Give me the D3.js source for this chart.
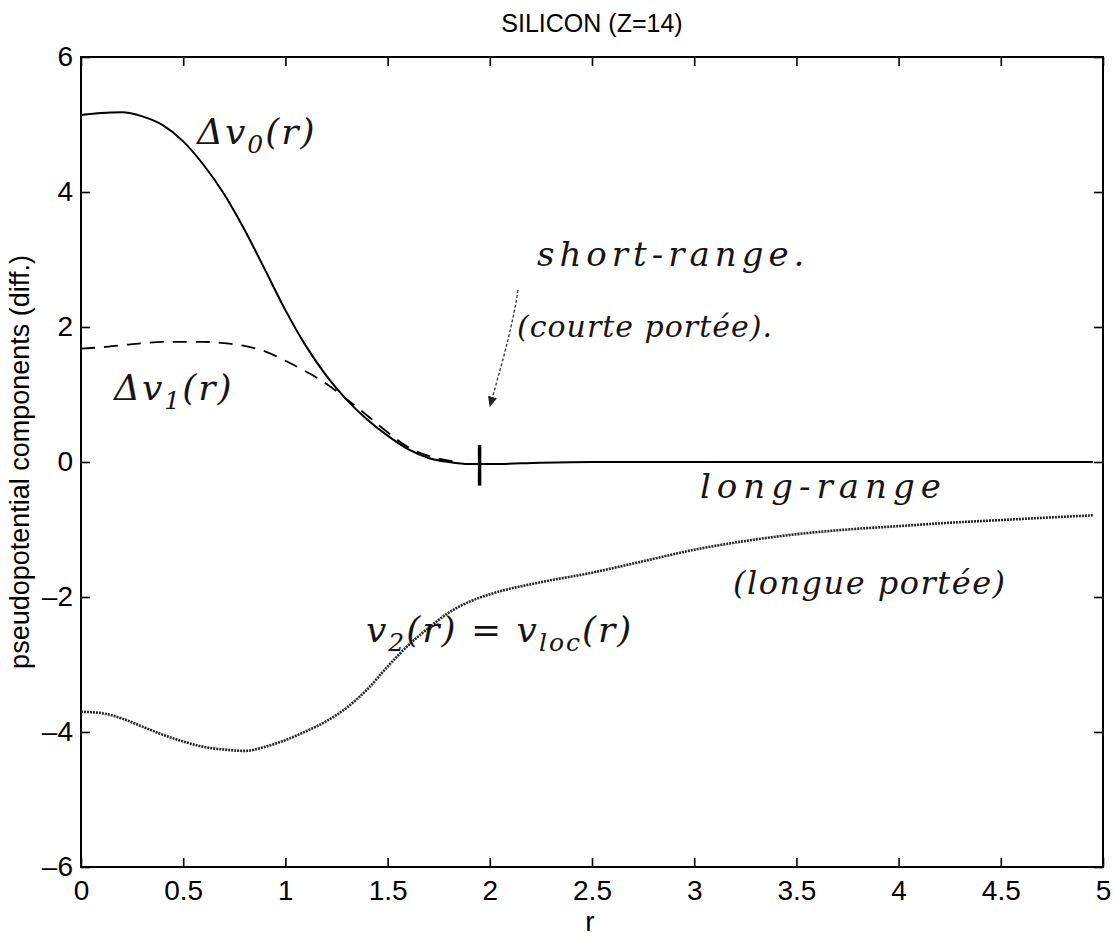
<!DOCTYPE html>
<html>
  <head>
    <meta charset="utf-8">
    <title>Silicon pseudopotential components</title>
    <script src="https://d3js.org/d3.v7.min.js"></script>
    <style>
      body { margin: 0; background: #fff; }
      .hand { font-family: "DejaVu Serif", serif; font-style: italic; fill: #151515; }
      .axis text { font-family: "Liberation Sans", Arial, sans-serif; font-size: 28px; fill: #000; }
    </style>
  </head>
  <body>
    <svg width="1114" height="944" font-family="Liberation Sans, Arial, sans-serif"></svg>
    <script>
      // data
      var rGrid = [0, 0.1, 0.2, 0.3, 0.4, 0.5, 0.6, 0.7, 0.8, 0.9, 1.0, 1.1, 1.2, 1.3, 1.4, 1.5, 1.6, 1.7, 1.8, 1.9, 2.0, 2.25, 2.5, 2.75, 3.0, 3.25, 3.5, 3.75, 4.0, 4.25, 4.5, 4.75, 4.95];
      var dv0 = [5.14, 5.17, 5.18, 5.12, 4.99, 4.75, 4.40, 3.97, 3.44, 2.85, 2.25, 1.72, 1.28, 0.92, 0.63, 0.39, 0.19, 0.06, 0.0, -0.03, -0.03, -0.01, 0, 0, 0, 0, 0, 0, 0, 0, 0, 0, 0];
      var rShort = [0, 0.1, 0.2, 0.3, 0.4, 0.5, 0.6, 0.7, 0.8, 0.9, 1.0, 1.1, 1.2, 1.3, 1.4, 1.5, 1.6, 1.7, 1.8, 1.85];
      var dv1 = [1.68, 1.70, 1.73, 1.76, 1.78, 1.78, 1.78, 1.76, 1.72, 1.64, 1.50, 1.34, 1.16, 0.93, 0.69, 0.44, 0.22, 0.09, 0.02, 0.0];
      var v2 = [-3.70, -3.72, -3.80, -3.92, -4.04, -4.14, -4.22, -4.26, -4.28, -4.22, -4.12, -3.99, -3.84, -3.64, -3.37, -3.03, -2.72, -2.46, -2.23, -2.07, -1.96, -1.78, -1.64, -1.47, -1.30, -1.17, -1.07, -1.00, -0.95, -0.90, -0.86, -0.82, -0.79];
      var xTicks = [0, 0.5, 1, 1.5, 2, 2.5, 3, 3.5, 4, 4.5, 5];
      var yTicks = [-6, -4, -2, 0, 2, 4, 6];

      var svg = d3.select("svg");
      var mLeft = 81, mRight = 1103, mTop = 57, mBottom = 867;

      var x = d3.scaleLinear().domain([0, 5]).range([mLeft, mRight]);
      var y = d3.scaleLinear().domain([-6, 6]).range([mBottom, mTop]);

      // frame
      svg.append("rect")
        .attr("x", mLeft).attr("y", mTop)
        .attr("width", mRight - mLeft).attr("height", mBottom - mTop)
        .attr("fill", "none").attr("stroke", "#000").attr("stroke-width", 2);

      function styleAxis(g) {
        g.attr("class", "axis").attr("font-size", 28);
        g.select(".domain").remove();
        g.selectAll(".tick line").attr("stroke", "#000").attr("stroke-width", 1.6);
      }

      svg.append("g").attr("transform", "translate(0," + mBottom + ")")
        .call(d3.axisBottom(x).tickValues(xTicks).tickSizeInner(-9).tickPadding(13)
          .tickFormat(function (d) { return String(d); }))
        .call(styleAxis);
      svg.append("g").attr("transform", "translate(0," + mTop + ")")
        .call(d3.axisTop(x).tickValues(xTicks).tickSizeInner(-9).tickFormat(""))
        .call(styleAxis);
      svg.append("g").attr("transform", "translate(" + mLeft + ",0)")
        .call(d3.axisLeft(y).tickValues(yTicks).tickSizeInner(-9).tickPadding(8)
          .tickFormat(function (d) { return d < 0 ? "\u2013" + Math.abs(d) : String(d); }))
        .call(styleAxis);
      svg.append("g").attr("transform", "translate(" + mRight + ",0)")
        .call(d3.axisRight(y).tickValues(yTicks).tickSizeInner(-9).tickFormat(""))
        .call(styleAxis);

      // titles
      svg.append("text").attr("x", 592).attr("y", 32).attr("text-anchor", "middle")
        .attr("font-size", 25).text("SILICON (Z=14)");
      svg.append("text").attr("x", 590).attr("y", 931).attr("text-anchor", "middle")
        .attr("font-size", 28).text("r");
      svg.append("text").attr("transform", "translate(29,462) rotate(-90)")
        .attr("text-anchor", "middle").attr("font-size", 27)
        .text("pseudopotential components (diff.)");

      var line = d3.line().curve(d3.curveMonotoneX)
        .x(function (d) { return x(d[0]); }).y(function (d) { return y(d[1]); });

      svg.append("path").datum(d3.zip(rGrid, v2))
        .attr("d", line).attr("fill", "none")
        .attr("stroke", "#262626").attr("stroke-width", 2.6).attr("stroke-dasharray", "2,1");
      svg.append("path").datum(d3.zip(rShort, dv1))
        .attr("d", line).attr("fill", "none")
        .attr("stroke", "#000").attr("stroke-width", 1.8).attr("stroke-dasharray", "14,9");
      svg.append("path").datum(d3.zip(rGrid, dv0))
        .attr("d", line).attr("fill", "none")
        .attr("stroke", "#000").attr("stroke-width", 2);

      // hand-drawn marker at the cutoff radius
      svg.append("line").attr("x1", x(1.95)).attr("x2", x(1.95))
        .attr("y1", y(0.25)).attr("y2", y(-0.35))
        .attr("stroke", "#000").attr("stroke-width", 3.5);

      // handwritten annotations
      var defs = svg.append("defs");
      defs.append("marker").attr("id", "arrow").attr("viewBox", "0 0 10 10")
        .attr("refX", 8).attr("refY", 5).attr("markerWidth", 9).attr("markerHeight", 9)
        .attr("orient", "auto")
        .append("path").attr("d", "M0,1 L9,5 L0,9 Z").attr("fill", "#222");
      svg.append("path").attr("d", "M518,290 C512,330 500,370 490,406")
        .attr("fill", "none").attr("stroke", "#333").attr("stroke-width", 1.3)
        .attr("stroke-dasharray", "3,2").attr("marker-end", "url(#arrow)");

      var t0 = svg.append("text").attr("class", "hand").attr("x", 197).attr("y", 144)
        .attr("font-size", 36).attr("letter-spacing", 2);
      t0.append("tspan").text("\u0394v");
      t0.append("tspan").attr("dy", 9).attr("font-size", 25).text("0");
      t0.append("tspan").attr("dy", -9).text("(r)");

      var t1 = svg.append("text").attr("class", "hand").attr("x", 114).attr("y", 400)
        .attr("font-size", 36).attr("letter-spacing", 2);
      t1.append("tspan").text("\u0394v");
      t1.append("tspan").attr("dy", 9).attr("font-size", 25).text("1");
      t1.append("tspan").attr("dy", -9).text("(r)");

      var t2 = svg.append("text").attr("class", "hand").attr("x", 366).attr("y", 642)
        .attr("font-size", 36).attr("letter-spacing", 2);
      t2.append("tspan").text("v");
      t2.append("tspan").attr("dy", 9).attr("font-size", 25).text("2");
      t2.append("tspan").attr("dy", -9).text("(r) = v");
      t2.append("tspan").attr("dy", 9).attr("font-size", 25).text("loc");
      t2.append("tspan").attr("dy", -9).text("(r)");

      svg.append("text").attr("class", "hand").attr("x", 537).attr("y", 266)
        .attr("font-size", 34).attr("letter-spacing", 5).text("short-range.");
      svg.append("text").attr("class", "hand").attr("x", 517).attr("y", 337)
        .attr("font-size", 30).attr("letter-spacing", 1).text("(courte port\u00e9e).");
      svg.append("text").attr("class", "hand").attr("x", 700).attr("y", 498)
        .attr("font-size", 34).attr("letter-spacing", 6).text("long-range");
      svg.append("text").attr("class", "hand").attr("x", 733).attr("y", 594)
        .attr("font-size", 32).attr("letter-spacing", 1.5).text("(longue port\u00e9e)");
    </script>
  </body>
</html>
